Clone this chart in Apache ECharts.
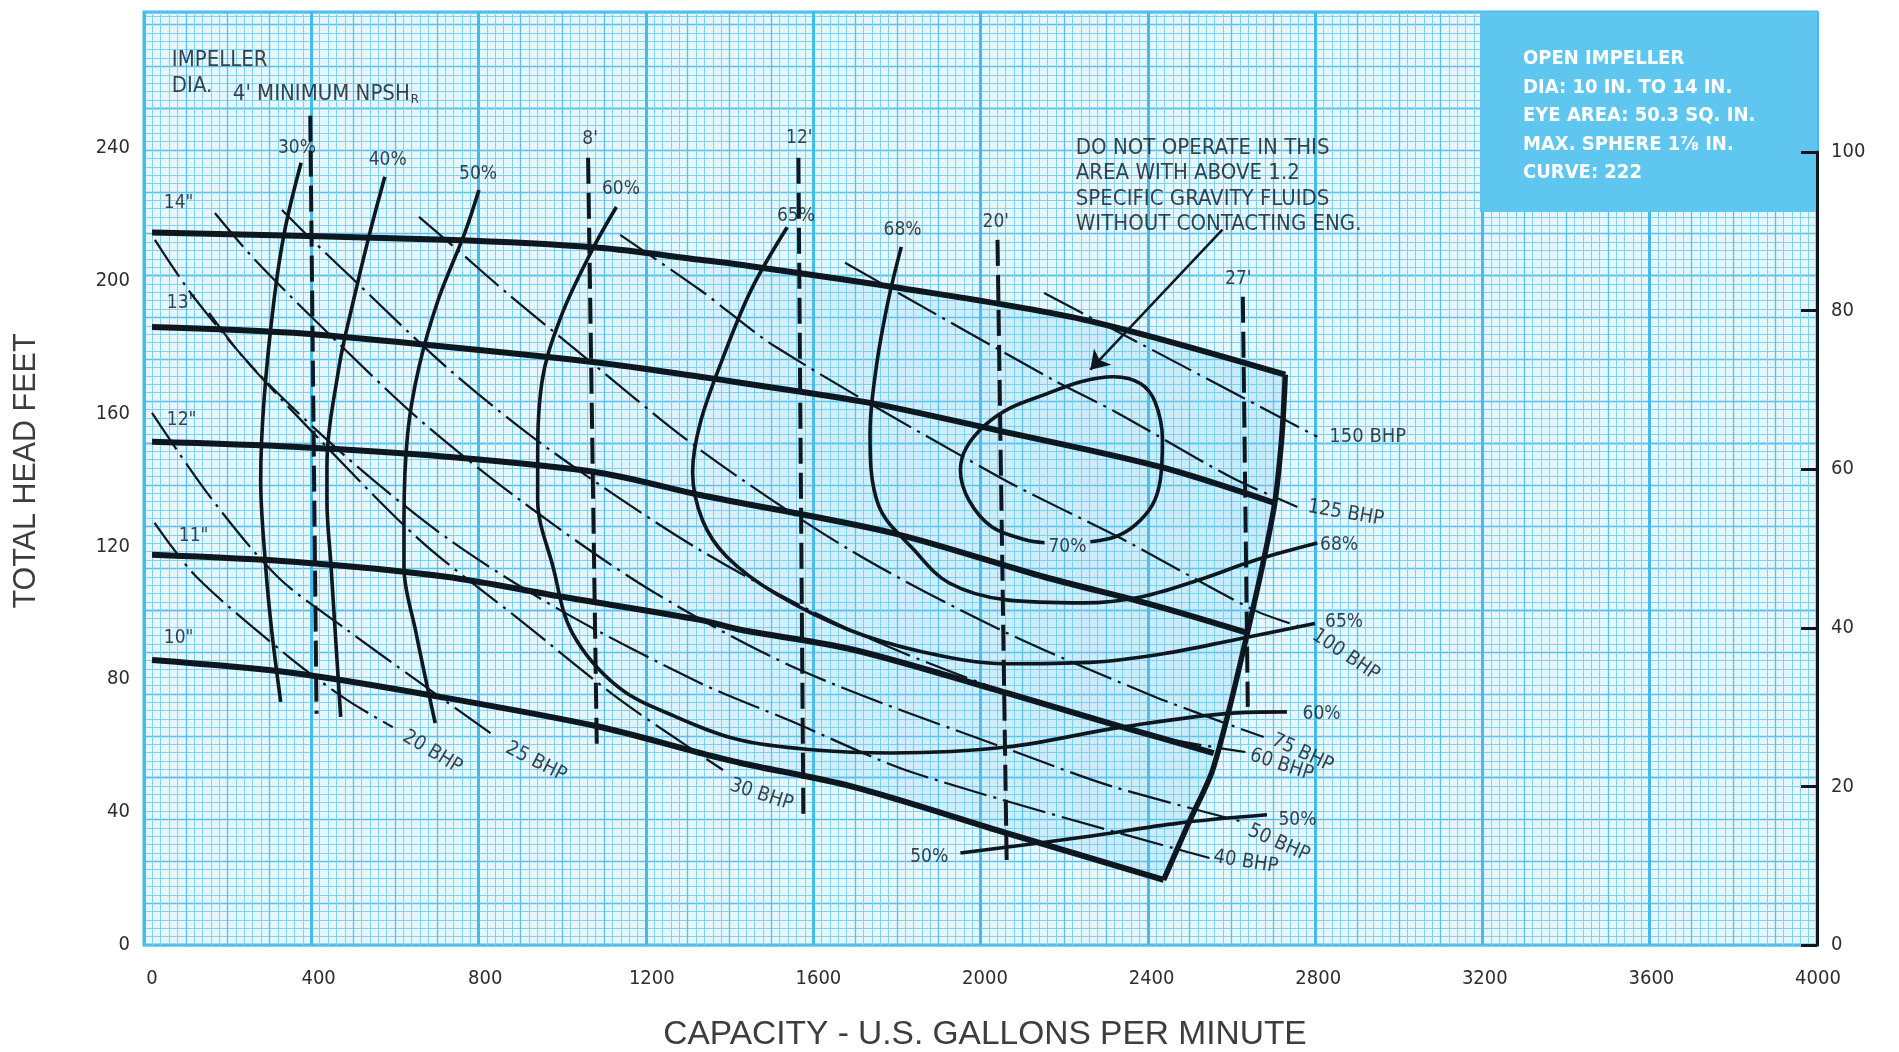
<!DOCTYPE html>
<html>
<head>
<meta charset="utf-8">
<title>Pump performance curve 222</title>
<script src="https://cdn.jsdelivr.net/npm/echarts@6/dist/echarts.min.js"></script>
<style>
html,body{margin:0;padding:0;background:#ffffff;}
#chart{width:1899px;height:1052px;}
</style>
</head>
<body>
<div id="chart"></div>
<script>
// ---------- axes ----------
const capacityTicks = [0, 400, 800, 1200, 1600, 2000, 2400, 2800, 3200, 3600, 4000];
const headTicks = [0, 40, 80, 120, 160, 200, 240];
const headMax = 280;
const rightTicks = [0, 20, 40, 60, 80, 100];

// ---------- impeller diameter curves (gpm, ft) ----------
const dia14 = [[0,214.5],[706,212.3],[1074,209.9],[1316,206.3],[1413,204.8],[1776,198.2],[2236,188.3],[2721,171.7]];
const dia13 = [[0,186.1],[339,184.3],[706,180.1],[1074,175.3],[1316,171.1],[1413,169.3],[1720,163.3],[2025,155.1],[2419,144.0],[2697,133.0]];
const dia12 = [[0,151.5],[339,150.0],[706,147.0],[1074,142.2],[1316,135.5],[1776,124.1],[2143,110.8],[2400,102.5],[2630,94.0]];
const dia11 = [[0,117.5],[339,115.4],[706,110.9],[982,104.9],[1316,97.9],[1413,94.9],[1684,88.9],[2052,75.9],[2328,65.7],[2549,57.8]];
const dia10 = [[0,85.8],[339,81.9],[706,74.4],[1074,65.7],[1316,57.8],[1413,54.8],[1684,47.6],[2052,33.7],[2429,19.6]];
const endOfCurve = [[2429,19.6],[2490,37.0],[2549,53.6],[2630,94.0],[2693,131.0],[2712,152.0],[2721,171.7]];

// ---------- efficiency curves ----------
const eff30 = [[358,235.5],[319,215.3],[293,194.2],[269,164.1],[261,140.0],[273,113.8],[288,94.0],[309,73.2]];
const eff40 = [[559,231.3],[523,214.4],[484,194.2],[449,174.0],[420,143.9],[420,134.0],[430,113.8],[440,94.0],[453,68.7]];
const eff50 = [[785,227.3],[751,214.4],[687,194.2],[641,174.0],[614,154.2],[605,128.0],[605,113.8],[634,94.0],[680,66.8]];
const eff60 = [[1115,222.2],[1057,209.3],[982,189.2],[936,169.3],[926,144.0],[926,134.0],[963,113.8],[1009,94.0],[1119,77.7],[1258,68.7],[1412,61.7],[1593,58.7],[1776,57.8],[2052,59.6],[2328,65.6],[2605,69.9],[2725,70.2]];
const eff65 = [[1525,216.1],[1438,197.1],[1366,175.2],[1316,157.0],[1298,142.4],[1322,127.8],[1380,116.9],[1496,105.9],[1671,95.0],[1846,88.4],[2049,84.7],[2253,85.1],[2428,87.7],[2603,92.0],[2792,96.8]];
const eff68 = [[1799,210.2],[1768,194.2],[1739,174.0],[1724,154.2],[1744,132.5],[1830,118.9],[1914,109.0],[2052,103.9],[2237,103.0],[2374,104.8],[2513,109.9],[2650,115.9],[2798,121.0]];
const eff70 = [[2143,121.1],[2097,122.0],[2016,125.9],[1961,134.0],[1941,143.0],[1955,149.7],[2001,156.6],[2061,161.7],[2143,165.7],[2230,169.6],[2309,171.1],[2374,169.0],[2409,163.3],[2426,152.1],[2421,140.1],[2402,132.5],[2361,126.5],[2313,122.9],[2253,121.4]];
const eff50Low = [[1941,27.7],[2237,32.5],[2465,36.7],[2677,39.2]];

// ---------- NPSH required (ft) verticals ----------
const npsh4 = [[380,249.7],[395,69.6]];
const npsh8 = [[1047,237.0],[1068,59.6]];
const npsh12 = [[1552,237.0],[1564,37.7]];
const npsh20 = [[2030,212.3],[2052,25.6]];
const npsh27 = [[2619,195.2],[2631,71.7]];

// ---------- brake horsepower lines ----------
const bhp20 = [[6,127.1],[107,110.8],[329,86.7],[468,73.8],[578,65.6]];
const bhp25 = [[0,160.2],[136,135.5],[302,110.8],[468,94.9],[634,79.8],[826,62.6]];
const bhp30 = [[137,190.3],[218,177.1],[403,152.1],[643,121.9],[883,97.9],[1124,73.8],[1371,52.7]];
const bhp40 = [[7,212.3],[100,195.1],[259,171.6],[475,146.0],[715,121.9],[979,100.9],[1316,78.9],[1527,67.8],[1830,51.8],[2539,26.2]];
const bhp50 = [[151,220.4],[247,206.3],[427,183.7],[643,158.1],[883,134.0],[1196,106.9],[1556,82.8],[2126,55.7],[2309,47.6],[2621,37.0]];
const bhp60 = [[312,221.3],[384,212.3],[485,200.2],[715,173.1],[955,149.1],[1316,118.9],[1676,94.9],[2037,76.8],[2397,63.2],[2625,58.1]];
const bhp75 = [[641,219.2],[725,210.2],[852,196.3],[1009,180.1],[1316,149.1],[1676,118.9],[2037,94.9],[2397,75.3],[2669,62.6]];
const bhp100 = [[1124,213.8],[1316,197.2],[1501,179.8],[2037,140.7],[2333,122.0],[2645,100.9],[2758,95.8]];
const bhp125 = [[1664,205.4],[2164,170.1],[2318,160.2],[2590,140.9],[2750,131.9]];
const bhp150 = [[2142,196.3],[2539,170.1],[2798,153.0]];

// ---------- text labels: [text, gpm, ft, rotation] ----------
const diaLabels = [['14"',64,223.5],['13"',71,193.4],['12"',71,158.1],['11"',100,123.2],['10"',64,92.5]];
const effLabels = [['30%',348,240],['40%',566,236.4],['50%',783,232.2],['60%',1126,227.7],['65%',1546,219.6],['68%',1802,215.4],
                   ['70%',2198,119.9],['68%',2850,120.5],['65%',2862,97.3],['60%',2808,69.6],['50%',2750,37.7],['50%',1866,26.5]];
const npshLabels = [["8'",1052,242.5],["12'",1554,242.8],["20'",2026,217.8],["27'",2608,200.6]];
const bhpLabels = [['20 BHP',673,58.1,-31],['25 BHP',922,55.1,-27],['30 BHP',1463,45.2,-18],['40 BHP',2626,25.0,-9],
                   ['50 BHP',2705,30.7,-24],['60 BHP',2712,54.2,-18],['75 BHP',2762,57.8,-25],['100 BHP',2866,87.3,-34],
                   ['125 BHP',2866,130.0,-10],['150 BHP',2919,153.0,0]];
const warningText = ['DO NOT OPERATE IN THIS','AREA WITH ABOVE 1.2','SPECIFIC GRAVITY FLUIDS','WITHOUT CONTACTING ENG.'];
const warningAt = [2218, 228.5];
const arrowFrom = [2570, 215.4];
const arrowTo = [2253, 173.2];
const infoText = ['OPEN IMPELLER','DIA: 10 IN. TO 14 IN.','EYE AREA: 50.3 SQ. IN.','MAX. SPHERE 1\u215E IN.','CURVE: 222'];

// ---------- styling ----------
const INK = '#0c1720';
const NARROW = "'DejaVu Sans Condensed','Liberation Sans Narrow',sans-serif";
const PAPER_BG = '#e6f6fd';

const chart = echarts.init(document.getElementById('chart'), null, {renderer: 'canvas'});

function paperAxis(interval, max, color, width, grid) {
  return {
    gridIndex: grid, type: 'value', min: 0, max: max, interval: interval,
    axisLine: {show: false}, axisTick: {show: false}, axisLabel: {show: false},
    splitLine: {show: true, lineStyle: {color: color, width: width}}, z: 0
  };
}

function curve(data, width, dash, smooth, z) {
  return {
    type: 'line', xAxisIndex: 3, yAxisIndex: 3, data: data, symbol: 'none',
    smooth: smooth, silent: true, animation: false, clip: false, z: z || 3,
    lineStyle: {color: INK, width: width, type: dash || 'solid', cap: 'butt', join: 'round'}
  };
}

function textSeries(items, extra) {
  return {
    type: 'scatter', xAxisIndex: 3, yAxisIndex: 3, symbolSize: 0, silent: true, animation: false, z: 6,
    data: items.map(it => ({name: it[0], value: [it[1], it[2]], label: {rotate: it[3] || 0}})),
    label: Object.assign({show: true, position: 'inside', formatter: '{b}', color: INK,
      fontFamily: NARROW, fontSize: 19}, extra || {})
  };
}

const bhpDash = [44, 7, 3, 7];
const npshDash = [26, 9];

// translucent glow over the operating envelope
const envelope = dia14.concat(endOfCurve.slice().reverse(), dia10.slice().reverse());

const option = {
  backgroundColor: '#ffffff',
  animation: false,
  grid: [
    {left: 144, right: 82, top: 12, bottom: 107, show: true, backgroundColor: PAPER_BG,
     borderColor: '#45bbe9', borderWidth: 3, outerBoundsMode: 'none', containLabel: false},
    {left: 152, right: 81, top: 15, bottom: 107, outerBoundsMode: 'none', containLabel: false},
    {left: 152, right: 82, top: 152, bottom: 107, outerBoundsMode: 'none', containLabel: false}
  ],
  xAxis: [
    paperAxis(1, 200, '#80d2f1', 1, 0),
    paperAxis(5, 200, '#57c1eb', 1.3, 0),
    paperAxis(20, 200, '#45bbe9', 3, 0),
    {
      gridIndex: 1, type: 'value', min: capacityTicks[0], max: capacityTicks[capacityTicks.length - 1],
      interval: capacityTicks[1] - capacityTicks[0],
      axisLine: {show: false}, axisTick: {show: false}, splitLine: {show: false},
      axisLabel: {margin: 24, color: '#2e2e2e', fontFamily: NARROW, fontSize: 20, formatter: v => String(v)},
      name: 'CAPACITY - U.S. GALLONS PER MINUTE', nameLocation: 'middle', nameGap: 73,
      nameTextStyle: {color: '#3d3d3d', fontFamily: "'Liberation Sans',Arial,sans-serif", fontSize: 33.5}
    },
    {gridIndex: 2, type: 'value', min: 0, max: 1, show: false}
  ],
  yAxis: [
    paperAxis(1, 111.5, '#80d2f1', 1, 0),
    paperAxis(5, 111.5, '#57c1eb', 1.3, 0),
    paperAxis(20, 111.5, '#57c1eb', 1.3, 0),
    {
      gridIndex: 1, type: 'value', min: 0, max: headMax, interval: headTicks[1] - headTicks[0],
      axisLine: {show: false}, axisTick: {show: false}, splitLine: {show: false},
      axisLabel: {margin: 22, color: '#2e2e2e', fontFamily: NARROW, fontSize: 20,
        formatter: v => headTicks.indexOf(v) >= 0 ? String(v) : ''},
      name: 'TOTAL HEAD FEET', nameLocation: 'middle', nameGap: 110, nameRotate: 90,
      nameTextStyle: {color: '#3d3d3d', fontFamily: "'Liberation Sans',Arial,sans-serif", fontSize: 30.5,
        padding: [0, 0, 0, 18]}
    },
    {
      gridIndex: 2, type: 'value', position: 'right', min: rightTicks[0], max: rightTicks[rightTicks.length - 1],
      interval: rightTicks[1] - rightTicks[0], z: 10,
      axisLine: {show: true, onZero: false, lineStyle: {color: INK, width: 3}},
      axisTick: {show: true, inside: true, length: 16, lineStyle: {color: INK, width: 3}},
      splitLine: {show: false},
      axisLabel: {margin: 14, color: '#2e2e2e', fontFamily: NARROW, fontSize: 20, formatter: v => String(v)}
    }
  ],
  graphic: [
    {type: 'rect', shape: {x: 1480, y: 12, width: 337, height: 200}, style: {fill: '#5ec6ef'}, z: 3},
    {type: 'text', x: 1523, y: 45, z: 4,
     style: {text: infoText.join('\n'), fill: '#ffffff', fontFamily: NARROW, fontWeight: 'bold',
             fontSize: 20, lineHeight: 28.5}}
  ],
  series: [
    {
      type: 'custom', xAxisIndex: 3, yAxisIndex: 3, silent: true, z: 1, data: [0], clip: false,
      renderItem: function (params, api) {
        const pts = envelope.map(p => api.coord(p));
        return {type: 'polygon', shape: {points: pts},
          style: {fill: new echarts.graphic.LinearGradient(0, 0, 1, 0, [
            {offset: 0, color: 'rgba(110,200,238,0)'},
            {offset: 0.33, color: 'rgba(110,200,238,0.0)'},
            {offset: 0.62, color: 'rgba(110,200,238,0.18)'},
            {offset: 1, color: 'rgba(110,200,238,0.24)'}])}};
      }
    },
    // brake horsepower
    curve(bhp20, 2.2, bhpDash, 0.3, 3),
    curve(bhp25, 2.2, bhpDash, 0.3, 3),
    curve(bhp30, 2.2, bhpDash, 0.3, 3),
    curve(bhp40, 2.2, bhpDash, 0.3, 3),
    curve(bhp50, 2.2, bhpDash, 0.3, 3),
    curve(bhp60, 2.2, bhpDash, 0.3, 3),
    curve(bhp75, 2.2, bhpDash, 0.3, 3),
    curve(bhp100, 2.2, bhpDash, 0.3, 3),
    curve(bhp125, 2.2, bhpDash, 0.3, 3),
    curve(bhp150, 2.2, bhpDash, 0.3, 3),
    // NPSH required
    curve(npsh4, 4, npshDash, false, 4),
    curve(npsh8, 4, npshDash, false, 4),
    curve(npsh12, 4, npshDash, false, 4),
    curve(npsh20, 4, npshDash, false, 4),
    curve(npsh27, 4, npshDash, false, 4),
    // efficiency
    curve(eff30, 3.6, 'solid', 0.35, 4),
    curve(eff40, 3.6, 'solid', 0.35, 4),
    curve(eff50, 3.6, 'solid', 0.35, 4),
    curve(eff60, 3.6, 'solid', 0.35, 4),
    curve(eff65, 3.6, 'solid', 0.35, 4),
    curve(eff68, 3.6, 'solid', 0.35, 4),
    curve(eff70, 3.6, 'solid', 0.35, 4),
    curve(eff50Low, 3.6, 'solid', 0.35, 4),
    // impeller diameters and end of curve
    curve(dia14, 6, 'solid', 0.3, 5),
    curve(dia13, 6, 'solid', 0.3, 5),
    curve(dia12, 6, 'solid', 0.3, 5),
    curve(dia11, 6, 'solid', 0.3, 5),
    curve(dia10, 6, 'solid', 0.3, 5),
    curve(endOfCurve, 5.5, 'solid', 0.3, 5),
    // arrow to the 70% island
    {
      type: 'line', xAxisIndex: 3, yAxisIndex: 3, data: [], silent: true, animation: false,
      markLine: {silent: true, animation: false, symbol: ['none', 'arrow'], symbolSize: 18,
        label: {show: false}, lineStyle: {color: INK, width: 2.5, type: 'solid'},
        data: [[{coord: arrowFrom}, {coord: arrowTo}]]}
    },
    // labels
    textSeries(diaLabels),
    textSeries(effLabels),
    textSeries(npshLabels),
    textSeries(bhpLabels, {fontSize: 20}),
    {
      type: 'scatter', xAxisIndex: 3, yAxisIndex: 3, symbolSize: 0, silent: true, animation: false, z: 6,
      data: [{name: 'IMPELLER', value: [47.6, 266.5]}, {name: 'DIA.', value: [47.6, 258.4]}],
      label: {show: true, position: 'right', distance: 0, formatter: '{b}', color: INK, fontFamily: NARROW, fontSize: 22}
    },
    {
      type: 'scatter', xAxisIndex: 3, yAxisIndex: 3, symbolSize: 0, silent: true, animation: false, z: 6,
      data: [{name: 'npsh', value: [194, 256.2]}],
      label: {show: true, position: 'right', distance: 0, color: INK, fontFamily: NARROW,
        formatter: "{m|4' MINIMUM NPSH}{s|R}",
        rich: {m: {fontFamily: NARROW, fontSize: 22, color: INK},
               s: {fontFamily: NARROW, fontSize: 13, color: INK, padding: [12, 0, 0, 1]}}}
    },
    {
      type: 'scatter', xAxisIndex: 3, yAxisIndex: 3, symbolSize: 0, silent: true, animation: false, z: 6,
      data: [{name: warningText.join('\n'), value: warningAt}],
      label: {show: true, position: 'right', distance: 0, formatter: '{b}', color: INK, fontFamily: NARROW,
        fontSize: 22, lineHeight: 25.5, align: 'left'}
    }
  ]
};

chart.setOption(option);
</script>
</body>
</html>
